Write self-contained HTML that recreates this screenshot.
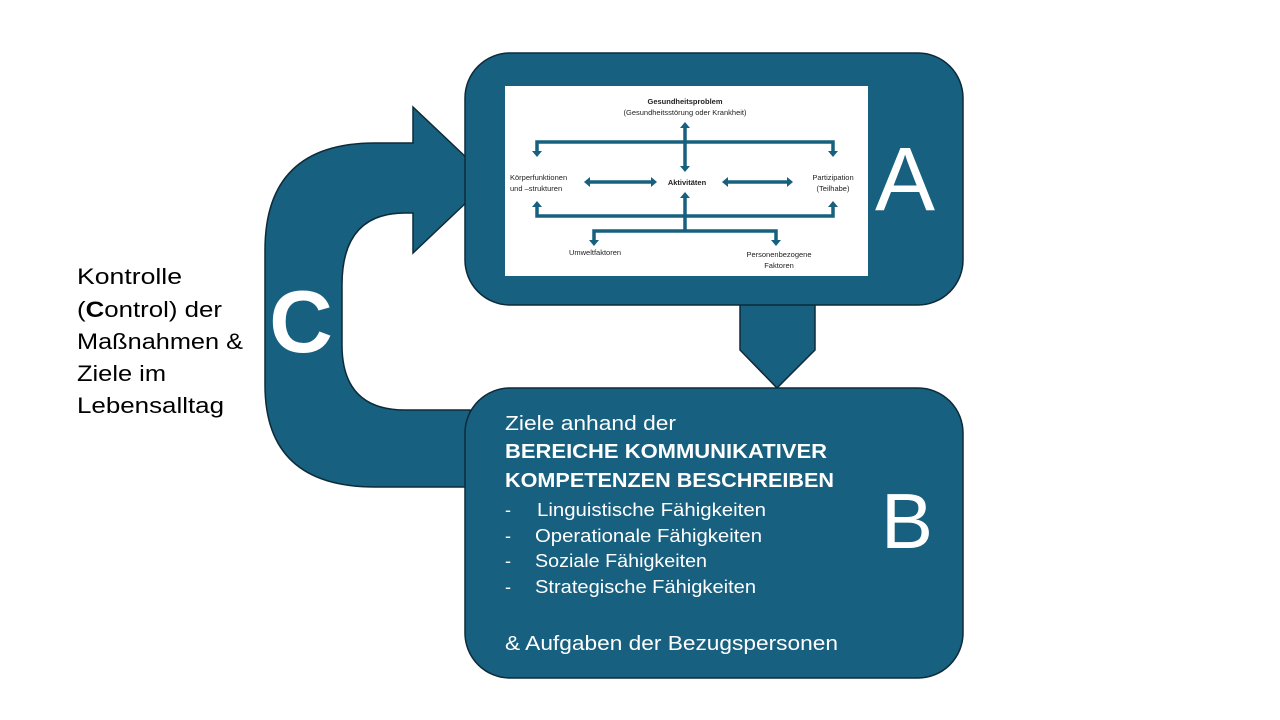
<!DOCTYPE html>
<html><head><meta charset="utf-8"><style>
html,body{margin:0;padding:0;background:#fff;}
svg{display:block;}
</style></head><body>
<svg width="1280" height="720" viewBox="0 0 1280 720" xmlns="http://www.w3.org/2000/svg" font-family="Liberation Sans, sans-serif">
<rect width="1280" height="720" fill="#fff"/>
<!-- C arrow -->
<path d="M413 107 L490 180 L413 253 L413 213 L405 213 Q342 213 342 285 L342 345 Q342 410 405 410 L470 410 L470 487 L375 487 Q265 487 265 385 L265 250 Q265 143 375 143 L413 143 Z" fill="#17607f" stroke="#0d2b3a" stroke-width="1.5"/>
<text x="301" y="352" font-size="88" font-weight="bold" fill="#fff" text-anchor="middle">C</text>
<!-- connector -->
<path d="M740 300 L815 300 L815 350 L777 388 L740 350 Z" fill="#17607f" stroke="#0d2b3a" stroke-width="1.5"/>
<!-- Box A -->
<rect x="465" y="53" width="498" height="252" rx="45" fill="#17607f" stroke="#0d2b3a" stroke-width="1.5"/>
<rect x="505" y="86" width="363" height="190" fill="#fff"/>
<text x="905" y="210" font-size="90" fill="#fff" text-anchor="middle">A</text>
<!-- ICF diagram -->
<g fill="#222" font-size="7.5" text-anchor="middle">
<text x="685" y="104" font-weight="bold">Gesundheitsproblem</text>
<text x="685" y="115">(Gesundheitsstörung oder Krankheit)</text>
<text x="687" y="185" font-weight="bold">Aktivitäten</text>
<text x="510" y="180" text-anchor="start">Körperfunktionen</text>
<text x="510" y="191" text-anchor="start">und –strukturen</text>
<text x="833" y="180">Partizipation</text>
<text x="833" y="191">(Teilhabe)</text>
<text x="595" y="255">Umweltfaktoren</text>
<text x="779" y="257">Personenbezogene</text>
<text x="779" y="268">Faktoren</text>
</g>
<g stroke="#17607f" stroke-width="3.5" fill="none">
<path d="M537 153 L537 142 L833 142 L833 153"/>
<path d="M685 127 L685 167"/>
<path d="M589 182 L652 182"/>
<path d="M727 182 L788 182"/>
<path d="M537 206 L537 216 L833 216 L833 206"/>
<path d="M685 197 L685 231"/>
<path d="M594 241 L594 231 L776 231 L776 241"/>
</g>
<g fill="#17607f">
<path d="M532 151 L542 151 L537 157 Z"/><path d="M828 151 L838 151 L833 157 Z"/>
<path d="M680 128 L690 128 L685 122 Z"/><path d="M680 166 L690 166 L685 172 Z"/>
<path d="M590 177 L590 187 L584 182 Z"/><path d="M651 177 L651 187 L657 182 Z"/>
<path d="M728 177 L728 187 L722 182 Z"/><path d="M787 177 L787 187 L793 182 Z"/>
<path d="M532 207 L542 207 L537 201 Z"/><path d="M828 207 L838 207 L833 201 Z"/>
<path d="M680 198 L690 198 L685 192 Z"/>
<path d="M589 240 L599 240 L594 246 Z"/><path d="M771 240 L781 240 L776 246 Z"/>
</g>
<!-- Box B -->
<rect x="465" y="388" width="498" height="290" rx="45" fill="#17607f" stroke="#0d2b3a" stroke-width="1.5"/>
<text x="907" y="548" font-size="78" fill="#fff" text-anchor="middle">B</text>
<g fill="#fff">
<text x="505" y="430" font-size="20" textLength="171" lengthAdjust="spacingAndGlyphs">Ziele anhand der</text>
<text x="505" y="458" font-size="20" font-weight="bold" textLength="322" lengthAdjust="spacingAndGlyphs">BEREICHE KOMMUNIKATIVER</text>
<text x="505" y="487" font-size="20" font-weight="bold" textLength="329" lengthAdjust="spacingAndGlyphs">KOMPETENZEN BESCHREIBEN</text>
<g font-size="18">
<text x="505" y="516">-</text><text x="537" y="516" textLength="229" lengthAdjust="spacingAndGlyphs">Linguistische Fähigkeiten</text>
<text x="505" y="542">-</text><text x="535" y="542" textLength="227" lengthAdjust="spacingAndGlyphs">Operationale Fähigkeiten</text>
<text x="505" y="567">-</text><text x="535" y="567" textLength="172" lengthAdjust="spacingAndGlyphs">Soziale Fähigkeiten</text>
<text x="505" y="593">-</text><text x="535" y="593" textLength="221" lengthAdjust="spacingAndGlyphs">Strategische Fähigkeiten</text>
</g>
<text x="505" y="650" font-size="20" textLength="333" lengthAdjust="spacingAndGlyphs">&amp; Aufgaben der Bezugspersonen</text>
</g>
<!-- left text -->
<g font-size="22" fill="#000">
<text x="77" y="284" textLength="105" lengthAdjust="spacingAndGlyphs">Kontrolle</text>
<text x="77" y="317" textLength="145" lengthAdjust="spacingAndGlyphs">(<tspan font-weight="bold">C</tspan>ontrol) der</text>
<text x="77" y="349" textLength="166" lengthAdjust="spacingAndGlyphs">Maßnahmen &amp;</text>
<text x="77" y="381" textLength="89" lengthAdjust="spacingAndGlyphs">Ziele im</text>
<text x="77" y="413" textLength="147" lengthAdjust="spacingAndGlyphs">Lebensalltag</text>
</g>
</svg>
</body></html>
